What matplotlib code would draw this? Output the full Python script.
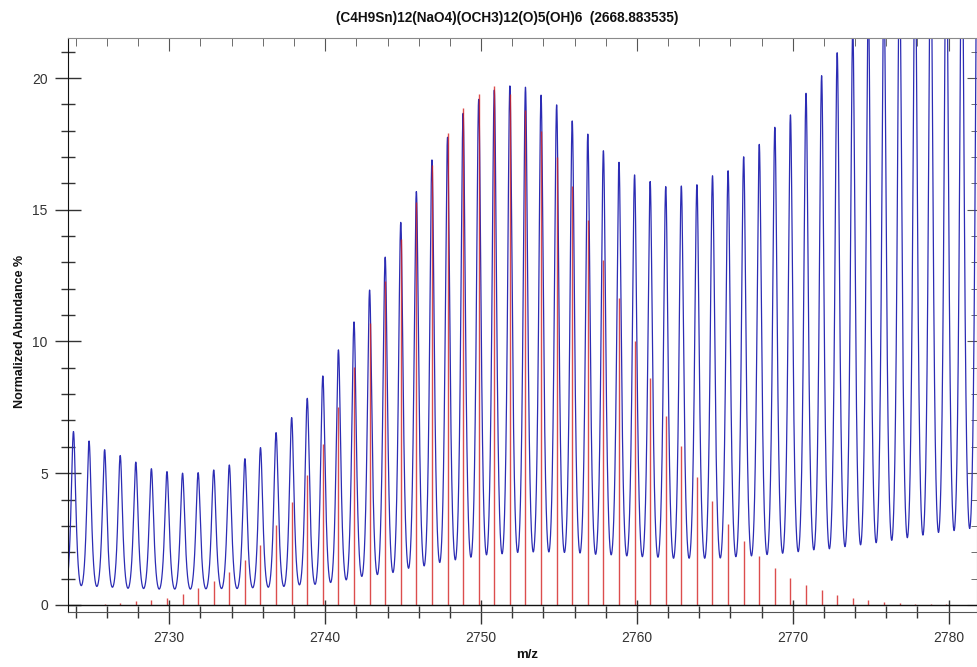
import numpy as np
import matplotlib.pyplot as plt
from matplotlib.ticker import MultipleLocator

plt.rcParams['font.family'] = ['Liberation Sans', 'DejaVu Sans']

title = "(C4H9Sn)12(NaO4)(OCH3)12(O)5(OH)6  (2668.883535)"

# measured profile: peak centres and apex heights
peak_mz = [2723.85, 2724.85, 2725.85, 2726.85, 2727.85, 2728.85, 2729.85, 2730.85,
           2731.85, 2732.85, 2733.85, 2734.85, 2735.85, 2736.85, 2737.85, 2738.85,
           2739.85, 2740.85, 2741.85, 2742.85, 2743.85, 2744.85, 2745.85, 2746.85,
           2747.85, 2748.85, 2749.85, 2750.85, 2751.85, 2752.85, 2753.85, 2754.85,
           2755.85, 2756.85, 2757.85, 2758.85, 2759.85, 2760.85, 2761.85, 2762.85,
           2763.85, 2764.85, 2765.85, 2766.85, 2767.85, 2768.85, 2769.85, 2770.85,
           2771.85, 2772.85, 2773.85, 2774.85, 2775.85, 2776.85, 2777.85, 2778.85,
           2779.85, 2780.85, 2781.85]
peak_height = [6.58, 6.22, 5.89, 5.67, 5.42, 5.17, 5.06, 5.00,
               5.02, 5.12, 5.31, 5.55, 5.97, 6.54, 7.11, 7.84,
               8.69, 9.68, 10.74, 11.95, 13.20, 14.52, 15.69, 16.89,
               17.75, 18.66, 19.19, 19.54, 19.70, 19.65, 19.35, 18.98,
               18.37, 17.87, 17.24, 16.80, 16.32, 16.07, 15.88, 15.90,
               15.95, 16.29, 16.48, 17.01, 17.48, 18.13, 18.60, 19.42,
               20.09, 20.96, 21.90, 22.80, 23.60, 24.40, 25.10, 25.70,
               26.20, 26.60, 27.00]
# minima before each peak, plus the one after the last peak
valley_height = [0.75, 0.73, 0.70, 0.67, 0.63, 0.62, 0.60, 0.60,
                 0.60, 0.61, 0.62, 0.62, 0.65, 0.67, 0.70, 0.76,
                 0.78, 0.85, 0.95, 1.08, 1.15, 1.23, 1.39, 1.48,
                 1.61, 1.71, 1.81, 1.90, 1.94, 1.99, 2.01, 2.01,
                 1.99, 1.97, 1.92, 1.90, 1.86, 1.83, 1.81, 1.77,
                 1.77, 1.77, 1.78, 1.83, 1.86, 1.91, 1.96, 2.02,
                 2.09, 2.13, 2.21, 2.28, 2.36, 2.45, 2.55, 2.65,
                 2.75, 2.82, 2.90, 2.95]

# theoretical isotope pattern
stick_mz = [2725.85, 2726.85, 2727.85, 2728.85, 2729.85, 2730.85, 2731.85, 2732.85,
            2733.85, 2734.85, 2735.85, 2736.85, 2737.85, 2738.85, 2739.85, 2740.85,
            2741.85, 2742.85, 2743.85, 2744.85, 2745.85, 2746.85, 2747.85, 2748.85,
            2749.85, 2750.85, 2751.85, 2752.85, 2753.85, 2754.85, 2755.85, 2756.85,
            2757.85, 2758.85, 2759.85, 2760.85, 2761.85, 2762.85, 2763.85, 2764.85,
            2765.85, 2766.85, 2767.85, 2768.85, 2769.85, 2770.85, 2771.85, 2772.85,
            2773.85, 2774.85, 2775.85, 2776.85, 2777.85, 2778.85, 2779.85]
stick_height = [0.05, 0.08, 0.13, 0.19, 0.28, 0.42, 0.63, 0.91,
                1.24, 1.71, 2.29, 3.03, 3.92, 4.93, 6.11, 7.50,
                9.04, 10.69, 12.30, 13.90, 15.30, 16.70, 17.90, 18.85,
                19.40, 19.70, 19.40, 18.80, 18.00, 17.00, 15.90, 14.60,
                13.10, 11.65, 10.00, 8.60, 7.18, 6.03, 4.87, 3.95,
                3.07, 2.43, 1.86, 1.40, 1.02, 0.77, 0.57, 0.38,
                0.28, 0.18, 0.10, 0.06, 0.05, 0.04, 0.02]


def peak_shape(t, gamma=0.2):
    # lorentzian plus its neighbour, scaled to 1 at the apex and 0 half way
    lor = lambda u: 1.0 / (1.0 + (u / gamma) ** 2)
    g = lor(t) + lor(1.0 - t)
    g0 = lor(0.0) + lor(1.0)
    gh = 2 * lor(0.5)
    return (g - gh) / (g0 - gh)


pk = np.array(peak_mz)
ph = np.array(peak_height)
vh = np.array(valley_height)
mid = (pk[1:] + pk[:-1]) / 2
vx = np.concatenate([[pk[0] - (pk[1] - pk[0]) / 2], mid, [pk[-1] + (pk[-1] - pk[-2]) / 2]])

xs = np.linspace(vx[0], vx[-1], 30000)
k = np.clip(np.searchsorted(vx, xs) - 1, 0, len(pk) - 1)
d = xs - pk[k]
left = d < 0
half = np.where(left, pk[k] - vx[k], vx[k + 1] - pk[k])
base = np.where(left, vh[k], vh[k + 1])
t = np.abs(d) / half * 0.5
ys = base + (ph[k] - base) * peak_shape(t)

fig = plt.figure(figsize=(9.78, 6.67), dpi=100)
ax = fig.add_axes([68 / 978, 55 / 667, 909 / 978, 574 / 667])

ax.plot(xs, ys, color='#2c2cb4', lw=0.9, zorder=2)
ax.vlines(stick_mz, 0, stick_height, color='#d42020', lw=1.0, alpha=0.8, zorder=3)
ax.axhline(0, color='#111111', lw=1.0, zorder=4)

ax.set_xlim(2723.5, 2781.82)
ax.set_ylim(-0.27, 21.52)

ax.xaxis.set_major_locator(MultipleLocator(10))
ax.xaxis.set_minor_locator(MultipleLocator(2))
ax.yaxis.set_major_locator(MultipleLocator(5))
ax.yaxis.set_minor_locator(MultipleLocator(1))

ax.tick_params(axis='x', which='major', direction='inout', length=17, width=1,
               colors='#333333', labelsize=10, pad=5)
ax.tick_params(axis='x', which='minor', direction='inout', length=9, width=1, color='#333333')
ax.tick_params(axis='y', which='major', direction='inout', length=19, width=1,
               colors='#333333', labelsize=10, pad=5)
ax.tick_params(axis='y', which='minor', direction='inout', length=10, width=1, color='#333333')

for s in ['top', 'right']:
    ax.spines[s].set_color('#8a8a8a')
ax.spines['left'].set_color('#111111')
ax.spines['bottom'].set_color('#555555')

top = ax.secondary_xaxis('top')
top.xaxis.set_major_locator(MultipleLocator(10))
top.xaxis.set_minor_locator(MultipleLocator(2))
top.tick_params(which='major', direction='in', length=9, color='#555555', labeltop=False)
top.tick_params(which='minor', direction='in', length=6, color='#555555')
top.spines['top'].set_visible(False)

right = ax.secondary_yaxis('right')
right.yaxis.set_major_locator(MultipleLocator(5))
right.yaxis.set_minor_locator(MultipleLocator(1))
right.tick_params(which='major', direction='in', length=7, color='#555555', labelright=False)
right.tick_params(which='minor', direction='in', length=4, color='#555555')
right.spines['right'].set_visible(False)

fig.text(507 / 978, 1 - 18 / 667, title, ha='center', va='center',
         fontsize=9.8, fontweight='bold', color='#111111')
fig.text(527 / 978, 1 - 655 / 667, 'm/z', ha='center', va='center',
         fontsize=9.5, fontweight='bold', color='#111111')
fig.text(20 / 978, 1 - 331 / 667, 'Normalized Abundance %', ha='center', va='center',
         rotation=90, fontsize=9, fontweight='bold', color='#111111')

fig.savefig('out.png', dpi=100)
